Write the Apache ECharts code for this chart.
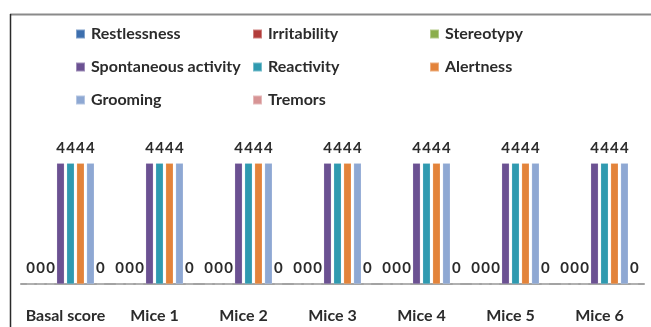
<!DOCTYPE html>
<html>
<head>
<meta charset="utf-8">
<script src="https://cdn.jsdelivr.net/npm/echarts@6/dist/echarts.min.js"></script>
<style>
  html, body { margin: 0; padding: 0; background: #fff; }
  #chart { width: 651px; height: 327px; }
</style>
</head>
<body>
<div id="chart"></div>
<script>
// Behaviour scores per observation
const categories = ['Basal score', 'Mice 1', 'Mice 2', 'Mice 3', 'Mice 4', 'Mice 5', 'Mice 6'];
const seriesNames = ['Restlessness', 'Irritability', 'Stereotypy', 'Spontaneous activity',
                     'Reactivity', 'Alertness', 'Grooming', 'Tremors'];
const restlessness = [0, 0, 0, 0, 0, 0, 0];
const irritability = [0, 0, 0, 0, 0, 0, 0];
const stereotypy = [0, 0, 0, 0, 0, 0, 0];
const spontaneousActivity = [4, 4, 4, 4, 4, 4, 4];
const reactivity = [4, 4, 4, 4, 4, 4, 4];
const alertness = [4, 4, 4, 4, 4, 4, 4];
const grooming = [4, 4, 4, 4, 4, 4, 4];
const tremors = [0, 0, 0, 0, 0, 0, 0];

const seriesValues = [restlessness, irritability, stereotypy, spontaneousActivity,
                      reactivity, alertness, grooming, tremors];
const colors = ['#3d6fae', '#b23c3a', '#8bae4c', '#6b5192', '#2f9ab0', '#e3833a', '#8ea8d3', '#d79495'];

const FONT = 'Lato, "Open Sans", sans-serif';
const TEXT = '#2b2b2b';

// legend slots: three columns, three rows
const legendCols = [75, 252, 429];
const legendRows = [26, 59, 92];
const legends = seriesNames.map((name, i) => ({
  data: [name],
  left: legendCols[i % 3],
  top: legendRows[Math.floor(i / 3)],
  padding: 0,
  icon: 'rect',
  itemWidth: 9,
  itemHeight: 9,
  itemGap: 6,
  selectedMode: false,
  textStyle: { fontFamily: FONT, fontSize: 16, fontWeight: 'bold', color: TEXT, padding: [0, 0, 0, 1] }
}));

const chart = echarts.init(document.getElementById('chart'), null, { renderer: 'canvas' });
chart.setOption({
  animation: false,
  color: colors,
  legend: legends,
  grid: { left: 21, right: 7, top: 133, bottom: 43, containLabel: false },
  xAxis: {
    type: 'category',
    data: categories,
    axisTick: { show: false },
    axisLine: { lineStyle: { color: '#a3a3a3', width: 2 } },
    axisLabel: { margin: 24, fontFamily: FONT, fontSize: 16, fontWeight: 'bold', color: TEXT, interval: 0 }
  },
  yAxis: {
    type: 'value',
    min: 0,
    max: 5,
    show: false,
    splitLine: { show: false }
  },
  series: seriesNames.map((name, i) => ({
    name,
    type: 'bar',
    data: seriesValues[i],
    barGap: '32%',
    barCategoryGap: '13%',
    itemStyle: { color: colors[i], borderColor: 'rgba(255,255,255,0.35)', borderWidth: 0.5 },
    label: {
      show: true,
      position: 'top',
      distance: 8,
      fontFamily: FONT,
      fontSize: 15,
      fontWeight: 'bold',
      color: TEXT
    }
  })),
  graphic: [
    { type: 'line', shape: { x1: 10, y1: 14.5, x2: 651, y2: 14.5 },
      style: { stroke: '#8a8a8a', lineWidth: 2 } },
    { type: 'line', shape: { x1: 10.5, y1: 14, x2: 10.5, y2: 327 },
      style: { stroke: '#2a2a2a', lineWidth: 1.5 } }
  ]
});
</script>
</body>
</html>
